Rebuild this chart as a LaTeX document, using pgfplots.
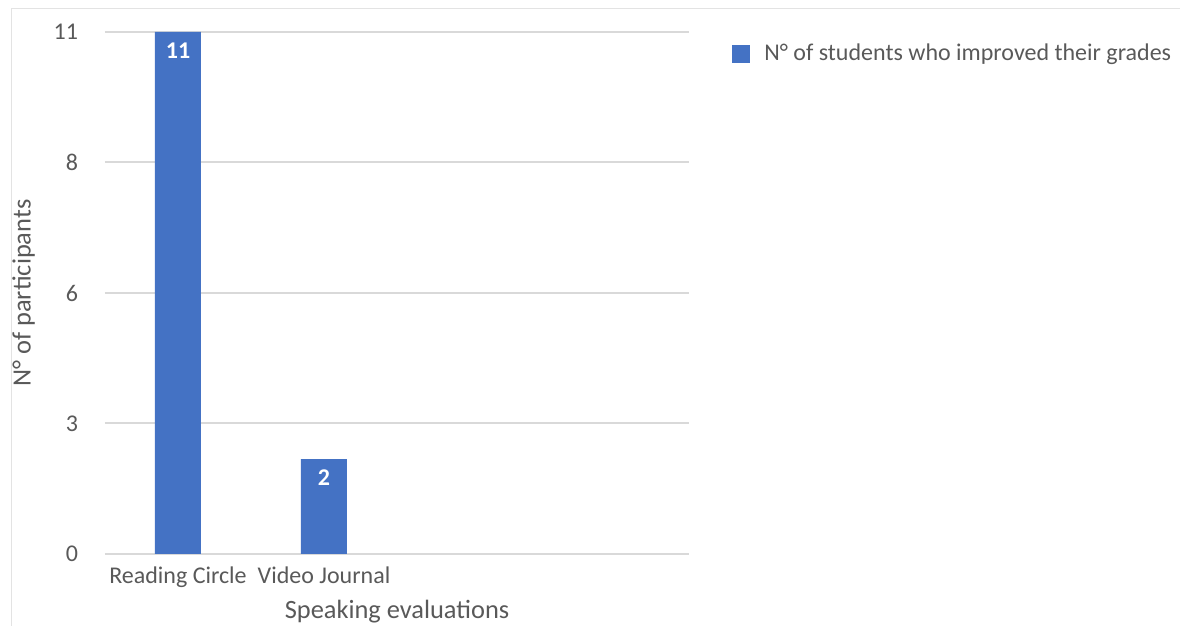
\documentclass[border=0pt]{standalone}
\usepackage{pgfplots}
\pgfplotsset{compat=1.18}
\usepackage{fontspec}
\setmainfont{Carlito}
\definecolor{barblue}{HTML}{4472C4}
\definecolor{txtgray}{HTML}{595959}
\definecolor{gridgray}{HTML}{D9D9D9}
\definecolor{framegray}{HTML}{E3E3E3}
\begin{document}
\begin{tikzpicture}[x=1pt,y=1pt]
\useasboundingbox (0,0) rectangle (590,313);
% chart frame
\draw[framegray, line width=0.5pt] (5.5,0) -- (5.5,308.5) -- (590,308.5);
\begin{axis}[
  at={(52.5pt,36pt)}, anchor=south west,
  scale only axis, width=292pt, height=261pt,
  ybar, bar width=23pt,
  xmin=-0.5, xmax=3.5, ymin=0, ymax=11,
  xtick={0,1,2,3}, xticklabels={Reading Circle,Video Journal,,},
  ytick={0,2.75,5.5,8.25,11}, yticklabels={0,3,6,8,11},
  major tick length=0pt,
  axis line style={draw=none},
  ymajorgrids, grid style={gridgray, line width=1pt},
  extra y ticks={0}, extra y tick labels={},
  extra y tick style={grid style={gridgray, line width=1.2pt}},
  tick label style={font=\fontsize{12}{14}\selectfont, text=txtgray},
  yticklabel style={xshift=-10pt},
  xticklabel style={yshift=-3pt},
  xlabel={Speaking evaluations}, ylabel={N° of participants},
  label style={font=\fontsize{13.2}{15}\selectfont, text=txtgray},
  xlabel style={yshift=0.5pt},
  ylabel style={yshift=2.5pt},
  /pgf/number format/assume math mode=true,
  nodes near coords,
  every node near coord/.append style={font=\bfseries\fontsize{12}{14}\selectfont, text=white, anchor=north, yshift=-2pt},
  legend style={at={(1.0736,0.958)}, anchor=west, draw=none, fill=none,
    inner sep=0pt, font=\fontsize{12}{14}\selectfont, text=txtgray},
  legend image code/.code={\fill[barblue] (0pt,-4.5pt) rectangle (9pt,4.5pt); \path (14pt,0pt);},
]
\addplot[fill=barblue, draw=none] coordinates {(0,11) (1,2)};
\addlegendentry{N° of students who improved their grades}
\end{axis}
\end{tikzpicture}
\end{document}
